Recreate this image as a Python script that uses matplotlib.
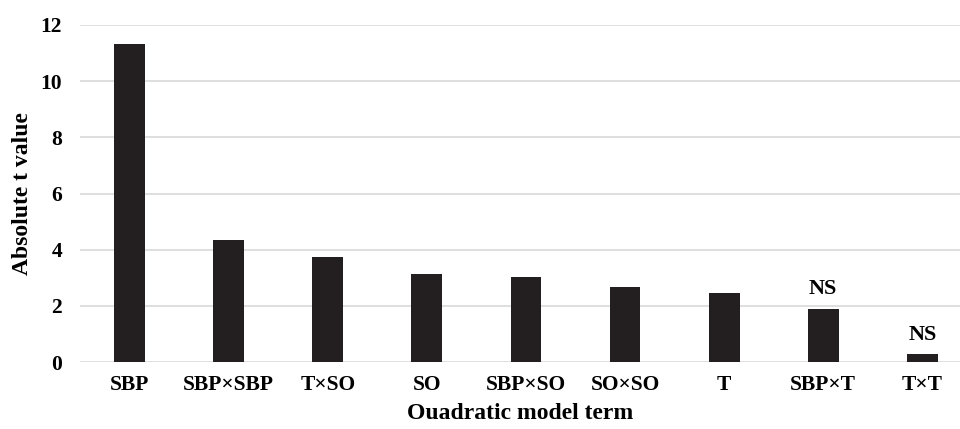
import matplotlib.pyplot as plt

terms = ['SBP', 'SBP×SBP', 'T×SO', 'SO', 'SBP×SO', 'SO×SO', 'T', 'SBP×T', 'T×T']
t_values = [11.32, 4.34, 3.74, 3.13, 3.03, 2.67, 2.46, 1.88, 0.27]
notes = ['', '', '', '', '', '', '', 'NS', 'NS']

plt.rcParams['font.family'] = 'Liberation Serif'
plt.rcParams['font.weight'] = 'bold'

fig = plt.figure(figsize=(9.6, 4.29), dpi=100)
ax = fig.add_axes([80 / 960, 67 / 429, 880 / 960, 337 / 429])

x = range(len(terms))
bars = ax.bar(x, t_values, width=0.31, color='#231f20', zorder=3)

# NS marks above the non-significant terms
for b, n in zip(bars, notes):
    if n:
        ax.annotate(n, (b.get_x() + b.get_width() / 2, b.get_height()),
                    xytext=(0, 7), textcoords='offset points',
                    ha='center', va='bottom', fontsize=16, fontweight='bold')

ax.set_xlim(-0.5, 8.38)
ax.set_ylim(0, 12)
ax.set_yticks(range(0, 13, 2))
ax.set_xticks(list(x))
ax.set_xticklabels(terms)
ax.tick_params(axis='both', length=0, labelsize=15.5)
ax.tick_params(axis='y', pad=13)
ax.tick_params(axis='x', pad=9)
for lbl in ax.get_xticklabels() + ax.get_yticklabels():
    lbl.set_fontweight('bold')

ax.grid(axis='y', color='#d9d9d9', linewidth=1.2, zorder=0)
for s in ax.spines.values():
    s.set_visible(False)

ax.set_xlabel('Ouadratic model term', fontsize=17, fontweight='bold', labelpad=6)
ax.set_ylabel('Absolute t value', fontsize=17, fontweight='bold', labelpad=5)

fig.savefig('out.png', dpi=100)
